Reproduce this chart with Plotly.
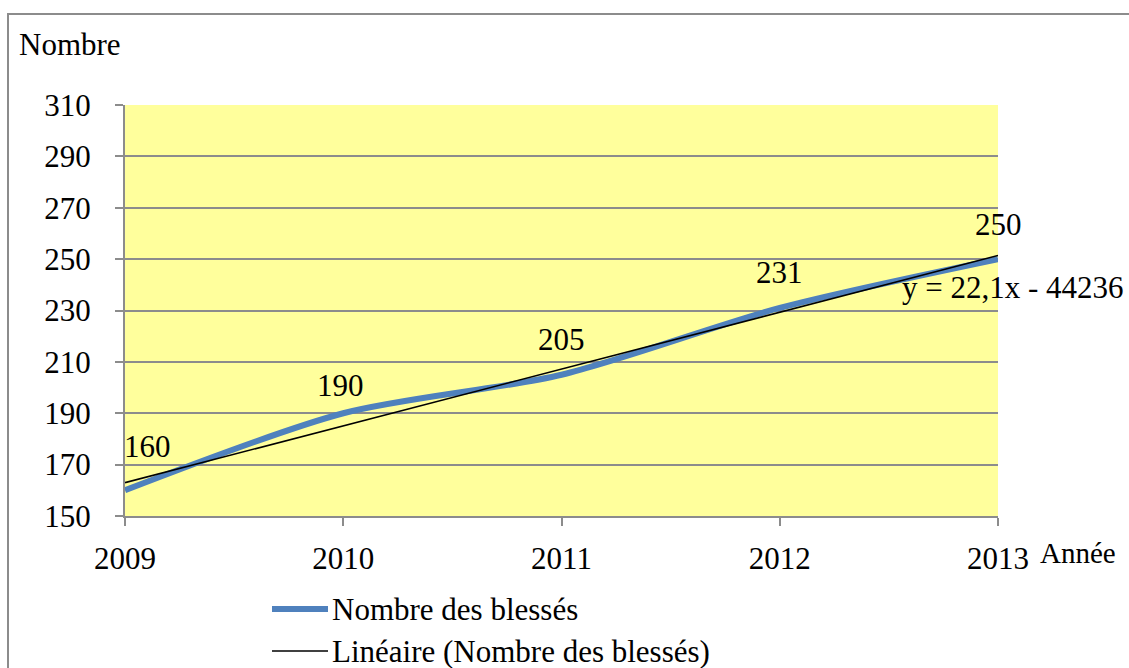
import numpy as np
import plotly.graph_objects as go

years = [2009, 2010, 2011, 2012, 2013]
blesses = [160, 190, 205, 231, 250]
y_ticks = [150, 170, 190, 210, 230, 250, 270, 290, 310]
series_name = "Nombre des blessés"
trend_name = "Linéaire (Nombre des blessés)"
equation = "y = 22,1x - 44236"

slope, intercept = np.polyfit(years, blesses, 1)
trend = [slope * x + intercept for x in years]

W, H = 1129, 668
L, R, T, B = 125, 998, 105, 516
FONT = "Liberation Serif, Times New Roman, serif"
FS = 31


def px(x):
    return (x - L) / (R - L)


def py(y):
    return (B - y) / (B - T)


def txt(x, y, text, xanchor="center", size=FS):
    fig.add_annotation(xref="paper", yref="paper", x=px(x), y=py(y), text=text,
                       xanchor=xanchor, yanchor="middle", showarrow=False,
                       font=dict(family=FONT, size=size, color="black"))


fig = go.Figure()
fig.add_trace(go.Scatter(x=years, y=blesses, mode="lines",
                         line=dict(color="#4F81BD", width=6, shape="spline", smoothing=0.8),
                         name=series_name, showlegend=False))
fig.add_trace(go.Scatter(x=years, y=trend, mode="lines",
                         line=dict(color="#000000", width=1.6),
                         name=trend_name, showlegend=False))

# data labels
shifts = [(22, 44), (-3, 28), (0, 35), (0, 35), (0, 35)]
for (x, y), (dx, dy) in zip(zip(years, blesses), shifts):
    fig.add_annotation(x=x, y=y, text=str(y), showarrow=False, xshift=dx, yshift=dy,
                       xanchor="center", yanchor="middle",
                       font=dict(family=FONT, size=FS, color="black"))

txt(1013, 287, equation)
txt(17, 44, "Nombre", xanchor="left")
txt(1078, 553, "Année", size=FS - 2)

# manual legend
for (yy, col, wd, name) in [(609, "#4F81BD", 6, series_name), (651, "#000000", 1.6, trend_name)]:
    fig.add_shape(type="line", xref="paper", yref="paper", x0=px(272), x1=px(328), y0=py(yy), y1=py(yy),
                  line=dict(color=col, width=wd))
    txt(330, yy, name, xanchor="left")

# outer border
fig.add_shape(type="rect", xref="paper", yref="paper", x0=px(8), x1=px(1160), y0=py(700), y1=py(14),
              line=dict(color="#8C8C8C", width=2), fillcolor="rgba(0,0,0,0)", layer="below")

fig.update_layout(
    width=W, height=H,
    margin=dict(l=L, r=W - R, t=T, b=H - B),
    paper_bgcolor="white", plot_bgcolor="#FFFF9C",
    font=dict(family=FONT, size=FS, color="black"),
    showlegend=False,
)
fig.update_xaxes(range=[2009, 2013], tickvals=years, ticktext=[str(y) for y in years],
                 showgrid=False, zeroline=False, showline=True, linecolor="#8C8C8C", linewidth=2,
                 ticks="outside", ticklen=8, tickcolor="#8C8C8C", tickwidth=2,
                 tickfont=dict(family=FONT, size=FS), ticklabelstandoff=6)
fig.update_yaxes(range=[150, 310], tickvals=y_ticks, showgrid=True, gridcolor="#8C8C8C", gridwidth=2,
                 zeroline=False, showline=True, linecolor="#8C8C8C", linewidth=2,
                 ticks="outside", ticklen=8, tickcolor="#8C8C8C", tickwidth=2,
                 tickfont=dict(family=FONT, size=FS), ticklabelstandoff=18)

fig.write_html("out.html", config={"displayModeBar": False},
               post_script="document.body.style.margin='0';document.body.style.overflow='hidden';")
